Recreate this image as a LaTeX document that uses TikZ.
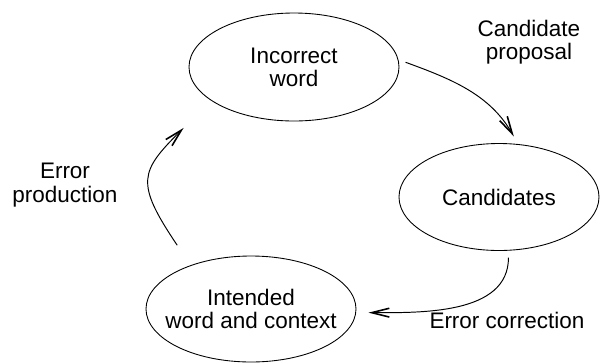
\documentclass[tikz,border=0pt]{standalone}
\usepackage{fontspec}
\setmainfont{Liberation Sans}
\usetikzlibrary{arrows.meta,shapes.geometric,positioning}

\begin{document}
\begin{tikzpicture}[
>={Straight Barb[length=10pt,width=5pt,line width=0.9pt]},
font=\fontsize{12.8}{13.2}\selectfont,
state/.style={
	ellipse,
	draw,
	line width=0.5pt,
	inner sep=-8pt,
	align=center
},
transition/.style={
	->,
	line width=0.55pt
}
]
\useasboundingbox (0,0) rectangle (12,7.26);

% the three states of the cycle
\node[state,minimum width=4.2cm,minimum height=2.16cm] (inc) at (5.88,5.92) {Incorrect\\word};
\node[state,minimum width=4.0cm,minimum height=2.14cm] (cand) at (9.98,3.32) {Candidates};
\node[state,minimum width=4.2cm,minimum height=2.12cm] (intd) at (5.02,1.08) {Intended\\word and context};

% names of the steps
\node[align=center] (prop) at (10.58,6.42) {Candidate\\proposal};
\node[align=center] (prod) at (1.30,3.56) {Error\\production};
\node (corr) at (10.14,0.85) {Error correction};

\draw[transition,shorten <=4.3pt,shorten >=5pt] (inc.4) to[out=-20,in=120] (cand.70);
\draw[transition,shorten <=4pt,shorten >=7pt] (cand.-80) to[out=-90,in=0] (intd.-2);
\draw[transition,shorten <=13.7pt,shorten >=22pt] (intd.144) to[out=124,in=225,looseness=1.55] (inc.202);
\end{tikzpicture}
\end{document}
